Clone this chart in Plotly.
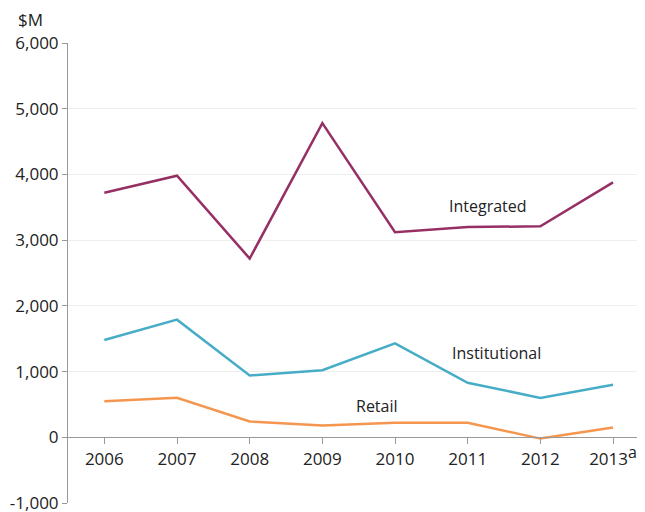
import plotly.graph_objects as go

years = ["2006", "2007", "2008", "2009", "2010", "2011", "2012", "2013"]
tick_labels = ["2006", "2007", "2008", "2009", "2010", "2011", "2012",
               "2013<sup><span style='font-size:16px'>a</span></sup>"]
integrated = [3720, 3980, 2720, 4780, 3120, 3200, 3210, 3880]
institutional = [1480, 1790, 940, 1020, 1430, 830, 600, 800]
retail = [550, 600, 240, 180, 220, 220, -20, 150]

series = [
    ("Integrated", integrated, "#963064"),
    ("Institutional", institutional, "#47ADC7"),
    ("Retail", retail, "#F5964F"),
]

FONT = "Open Sans"
fig = go.Figure()
for name, vals, col in series:
    fig.add_trace(go.Scatter(x=list(range(len(years))), y=vals, mode="lines", name=name,
                             line=dict(color=col, width=2.5)))

labels = [("Integrated", 5.28, 3520), ("Institutional", 5.40, 1284), ("Retail", 3.75, 483)]
for t, x, y in labels:
    fig.add_annotation(x=x, y=y, text=t, showarrow=False, font=dict(family=FONT, size=16, color="#222"))

fig.add_annotation(xref="paper", yref="paper", x=-0.09, y=1.0, yshift=10, xanchor="left",
                   yanchor="bottom", text="$M", showarrow=False,
                   font=dict(family=FONT, size=17, color="#222"))

fig.update_layout(
    width=637, height=504,
    margin=dict(l=60, r=0, t=35, b=9, autoexpand=False),
    plot_bgcolor="white", paper_bgcolor="white",
    showlegend=False,
    font=dict(family=FONT, size=17, color="#222"),
    xaxis=dict(
        tickmode="array", tickvals=list(range(len(years))), ticktext=tick_labels,
        range=[-0.5, 7.44], showgrid=False, zeroline=False, automargin=False,
        showline=True, linecolor="#999", linewidth=1,
        anchor="free", position=1000 / 7000,
        ticks="outside", ticklen=6, tickcolor="#999",
        tickfont=dict(family=FONT, size=17, color="#222"),
    ),
    yaxis=dict(
        range=[-1000, 6000], tickvals=[-1000, 0, 1000, 2000, 3000, 4000, 5000, 6000],
        ticktext=["-1,000", "0", "1,000", "2,000", "3,000", "4,000", "5,000", "6,000"],
        showgrid=True, gridcolor="#EEEEEE", zeroline=False, automargin=False,
        showline=True, linecolor="#999", linewidth=1,
        ticks="outside", ticklen=5, tickcolor="#999", ticklabeloverflow="allow",
        tickfont=dict(family=FONT, size=17, color="#222"),
    ),
)

fig.update_xaxes(tickson="boundaries")

fig.write_html("out.html")
